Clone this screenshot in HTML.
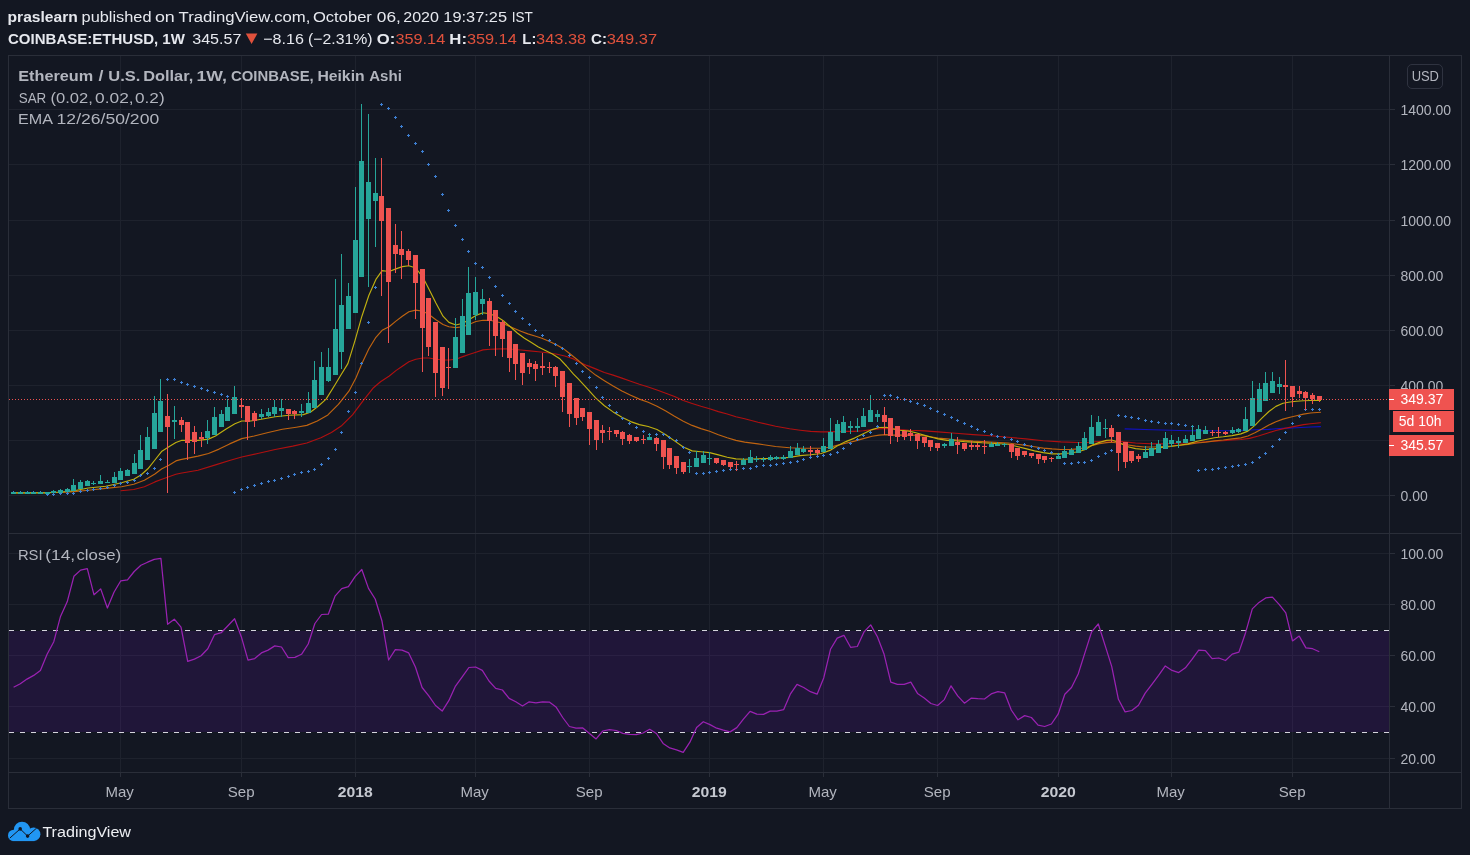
<!DOCTYPE html><html><head><meta charset="utf-8"><title>ETHUSD</title><style>
html,body{margin:0;padding:0;background:#131722;}
body{width:1470px;height:855px;overflow:hidden;position:relative;font-family:"Liberation Sans",sans-serif;}
svg{position:absolute;left:0;top:0;will-change:transform;}
text{font-family:"Liberation Sans",sans-serif;}
</style></head><body>
<svg width="1470" height="855" viewBox="0 0 1470 855">
<rect x="0" y="0" width="1470" height="855" fill="#131722"/>
<g stroke="#1e222d" stroke-width="1" shape-rendering="crispEdges">
<line x1="120.5" y1="56" x2="120.5" y2="772" />
<line x1="241.5" y1="56" x2="241.5" y2="772" />
<line x1="355.5" y1="56" x2="355.5" y2="772" />
<line x1="475.5" y1="56" x2="475.5" y2="772" />
<line x1="589.5" y1="56" x2="589.5" y2="772" />
<line x1="709.5" y1="56" x2="709.5" y2="772" />
<line x1="823.5" y1="56" x2="823.5" y2="772" />
<line x1="937.5" y1="56" x2="937.5" y2="772" />
<line x1="1058.5" y1="56" x2="1058.5" y2="772" />
<line x1="1171.5" y1="56" x2="1171.5" y2="772" />
<line x1="1292.5" y1="56" x2="1292.5" y2="772" />
<line x1="9" y1="109.5" x2="1389" y2="109.5" />
<line x1="9" y1="164.5" x2="1389" y2="164.5" />
<line x1="9" y1="220.5" x2="1389" y2="220.5" />
<line x1="9" y1="275.5" x2="1389" y2="275.5" />
<line x1="9" y1="330.5" x2="1389" y2="330.5" />
<line x1="9" y1="385.5" x2="1389" y2="385.5" />
<line x1="9" y1="440.5" x2="1389" y2="440.5" />
<line x1="9" y1="495.5" x2="1389" y2="495.5" />
<line x1="9" y1="553.5" x2="1389" y2="553.5" />
<line x1="9" y1="604.5" x2="1389" y2="604.5" />
<line x1="9" y1="655.5" x2="1389" y2="655.5" />
<line x1="9" y1="706.5" x2="1389" y2="706.5" />
<line x1="9" y1="758.5" x2="1389" y2="758.5" />
</g>
<rect x="9" y="631" width="1380" height="101" fill="rgba(153,21,255,0.105)"/>
<g stroke="#2a2e39" stroke-width="1" fill="none" shape-rendering="crispEdges">
<rect x="8.5" y="55.5" width="1453" height="753"/>
<line x1="1389.5" y1="56" x2="1389.5" y2="809"/>
<line x1="9" y1="533.5" x2="1461" y2="533.5"/>
<line x1="9" y1="772.5" x2="1461" y2="772.5"/>
<line x1="1389" y1="109.5" x2="1395" y2="109.5"/>
<line x1="1389" y1="164.5" x2="1395" y2="164.5"/>
<line x1="1389" y1="220.5" x2="1395" y2="220.5"/>
<line x1="1389" y1="275.5" x2="1395" y2="275.5"/>
<line x1="1389" y1="330.5" x2="1395" y2="330.5"/>
<line x1="1389" y1="385.5" x2="1395" y2="385.5"/>
<line x1="1389" y1="495.5" x2="1395" y2="495.5"/>
<line x1="1389" y1="553.5" x2="1395" y2="553.5"/>
<line x1="1389" y1="604.5" x2="1395" y2="604.5"/>
<line x1="1389" y1="655.5" x2="1395" y2="655.5"/>
<line x1="1389" y1="706.5" x2="1395" y2="706.5"/>
<line x1="1389" y1="758.5" x2="1395" y2="758.5"/>
<line x1="120.5" y1="772" x2="120.5" y2="777"/>
<line x1="241.5" y1="772" x2="241.5" y2="777"/>
<line x1="355.5" y1="772" x2="355.5" y2="777"/>
<line x1="475.5" y1="772" x2="475.5" y2="777"/>
<line x1="589.5" y1="772" x2="589.5" y2="777"/>
<line x1="709.5" y1="772" x2="709.5" y2="777"/>
<line x1="823.5" y1="772" x2="823.5" y2="777"/>
<line x1="937.5" y1="772" x2="937.5" y2="777"/>
<line x1="1058.5" y1="772" x2="1058.5" y2="777"/>
<line x1="1171.5" y1="772" x2="1171.5" y2="777"/>
<line x1="1292.5" y1="772" x2="1292.5" y2="777"/>
</g>
<line x1="9" y1="630.5" x2="1389" y2="630.5" stroke="#d4d4dc" stroke-width="1" stroke-dasharray="5,6" shape-rendering="crispEdges"/>
<line x1="9" y1="732.5" x2="1389" y2="732.5" stroke="#d4d4dc" stroke-width="1" stroke-dasharray="5,6" shape-rendering="crispEdges"/>
<path d="M1125.1,428.9 L1153.1,429.8 L1188.2,430.7 L1223.3,430.7 L1240.5,430.5 L1254.5,429.8 L1268.5,429.4 L1282.5,428.4 L1296.5,427.7 L1310.5,427.0 L1320.5,426.6" fill="none" stroke="#1010c0" stroke-width="1.15" stroke-linejoin="round" stroke-linecap="round"/>
<path d="M121.0,490.7 L133.8,489.5 L144.4,486.7 L154.9,481.9 L161.9,479.3 L168.9,476.7 L175.9,474.2 L180.5,473.3 L198.0,470.2 L215.5,464.9 L229.5,460.5 L241.7,457.0 L257.7,453.5 L275.2,449.5 L292.8,446.1 L306.8,443.0 L320.9,437.7 L331.4,432.5 L341.9,425.4 L352.5,414.9 L363.0,400.9 L373.5,387.7 L380.5,381.8 L389.3,376.0 L395.9,370.6 L402.3,366.2 L408.9,361.8 L415.8,359.2 L423.0,358.0 L428.9,358.0 L435.9,359.2 L443.0,360.0 L448.9,360.0 L455.9,359.2 L462.8,356.6 L468.9,354.5 L475.9,352.2 L483.0,349.9 L490.0,349.2 L494.5,349.1 L503.3,348.8 L512.1,349.3 L520.9,350.0 L529.6,350.9 L538.4,351.8 L547.2,352.8 L555.9,354.0 L564.7,356.0 L573.5,358.9 L578.0,361.4 L586.8,365.4 L595.6,368.9 L604.4,372.5 L613.1,375.1 L621.9,378.1 L630.7,381.2 L639.4,384.2 L648.2,387.0 L657.0,390.0 L665.8,393.2 L674.5,396.5 L683.3,400.5 L692.1,403.5 L700.9,406.3 L709.6,408.8 L718.4,411.6 L727.2,414.0 L735.9,416.7 L744.7,418.7 L758.0,422.3 L775.6,426.3 L789.6,428.8 L800.1,430.2 L810.7,431.4 L821.2,431.9 L830.0,431.9 L837.0,431.6 L845.8,431.4 L854.5,431.4 L863.3,430.7 L872.1,429.6 L879.1,428.9 L886.1,428.4 L893.1,428.9 L900.1,429.6 L908.9,430.2 L915.9,430.5 L924.7,430.9 L938.0,431.9 L955.6,433.3 L973.1,434.6 L990.7,435.8 L1008.2,437.2 L1025.8,438.9 L1043.3,440.7 L1060.9,441.9 L1078.4,442.5 L1087.2,442.5 L1095.9,441.8 L1104.7,441.0 L1111.7,440.8 L1118.0,441.2 L1126.8,442.1 L1135.6,443.0 L1144.4,443.5 L1153.1,443.9 L1161.9,443.9 L1170.7,443.5 L1179.4,443.3 L1188.2,443.0 L1197.0,442.5 L1205.8,441.8 L1214.5,441.2 L1223.3,440.7 L1232.1,440.0 L1240.9,439.5 L1249.6,438.4 L1258.4,436.0 L1267.2,433.2 L1275.9,430.5 L1284.7,428.4 L1293.5,426.6 L1303.5,424.6 L1310.5,423.8 L1320.5,422.8" fill="none" stroke="#b01010" stroke-width="1.15" stroke-linejoin="round" stroke-linecap="round"/>
<path d="M14.0,493.0 L61.0,492.5 L74.2,491.6 L88.2,490.2 L105.8,488.4 L121.5,486.7 L133.8,484.2 L144.4,480.2 L154.9,474.0 L161.9,468.8 L168.9,465.3 L175.9,460.9 L180.5,459.6 L198.0,456.1 L208.5,453.5 L219.1,449.1 L229.6,443.9 L241.7,438.6 L254.2,436.0 L268.2,432.5 L282.3,429.3 L296.3,427.2 L306.8,425.4 L317.3,421.0 L327.9,414.9 L338.4,404.4 L348.9,391.2 L355.9,378.0 L361.9,363.6 L368.9,348.7 L375.9,337.3 L382.1,330.3 L389.1,326.8 L395.9,321.1 L402.3,316.2 L408.9,311.8 L415.8,310.1 L423.0,311.3 L428.9,314.5 L435.9,319.7 L443.0,324.5 L448.9,326.8 L455.9,327.6 L462.8,326.8 L468.9,324.5 L475.9,321.5 L483.0,320.3 L490.0,320.3 L499.8,322.5 L506.8,325.1 L513.8,328.2 L520.9,331.2 L527.9,333.9 L534.9,336.0 L541.9,338.2 L548.9,341.2 L555.9,344.4 L563.0,348.4 L569.3,353.2 L578.0,360.2 L586.8,368.1 L595.6,375.1 L604.4,380.7 L613.1,386.0 L621.9,390.9 L630.7,395.3 L639.4,399.1 L648.2,402.3 L657.0,406.3 L665.8,411.1 L674.5,416.3 L683.3,421.2 L692.1,425.4 L700.9,428.6 L709.6,431.2 L718.4,434.7 L727.2,437.7 L735.9,440.4 L744.7,442.1 L758.0,443.9 L775.6,446.5 L789.6,447.7 L800.1,448.2 L810.7,448.2 L821.2,448.2 L830.0,447.2 L837.0,445.4 L845.8,443.3 L854.5,441.1 L863.3,438.6 L872.1,436.3 L879.1,435.1 L886.1,434.6 L893.1,435.1 L900.1,435.1 L908.9,435.1 L915.9,435.2 L924.7,435.9 L933.5,437.2 L938.0,438.1 L946.8,438.9 L955.6,439.8 L964.4,440.4 L973.1,441.1 L981.9,441.6 L990.7,442.1 L999.4,442.5 L1008.2,443.0 L1017.0,444.2 L1025.8,445.4 L1034.5,446.8 L1043.3,448.1 L1052.1,448.9 L1060.9,449.5 L1069.6,449.5 L1078.4,448.9 L1085.4,447.7 L1092.4,445.4 L1099.4,443.6 L1106.5,442.6 L1111.7,442.2 L1118.0,443.0 L1126.8,444.7 L1135.6,446.1 L1144.4,447.0 L1153.1,447.0 L1161.9,446.5 L1170.7,446.0 L1179.4,445.3 L1188.2,444.4 L1197.0,443.0 L1205.8,442.1 L1214.5,440.9 L1223.3,440.0 L1232.1,438.9 L1240.9,437.9 L1247.9,436.0 L1254.9,432.7 L1261.9,429.0 L1268.9,425.0 L1275.9,421.8 L1283.0,419.1 L1290.0,417.3 L1296.5,415.8 L1303.5,414.1 L1310.5,413.0 L1320.5,412.3" fill="none" stroke="#c06410" stroke-width="1.15" stroke-linejoin="round" stroke-linecap="round"/>
<path d="M14.0,492.8 L47.9,492.8 L61.0,492.0 L74.2,490.7 L88.2,488.0 L105.8,486.3 L121.5,482.8 L133.8,479.3 L140.9,475.0 L147.9,468.8 L154.9,460.0 L161.9,451.2 L168.9,446.8 L175.9,442.5 L181.9,440.2 L188.0,440.4 L198.0,440.4 L208.5,439.1 L215.5,436.0 L226.1,429.0 L234.9,423.7 L241.7,421.0 L250.7,421.0 L261.2,419.3 L275.2,416.7 L289.3,415.3 L303.3,414.6 L310.3,412.3 L317.3,407.0 L326.1,399.1 L334.9,385.0 L340.9,375.0 L347.9,363.6 L354.9,340.8 L361.9,316.2 L368.9,295.2 L375.9,279.4 L382.1,270.6 L389.1,271.5 L395.9,268.9 L402.3,266.6 L408.9,265.7 L415.8,268.0 L423.0,277.6 L428.9,289.0 L435.9,303.0 L443.0,316.2 L448.9,322.4 L455.9,325.0 L462.8,323.2 L468.9,319.7 L475.9,315.4 L483.0,312.7 L489.3,313.7 L496.3,316.3 L503.3,320.7 L510.3,326.8 L517.3,333.0 L524.4,338.2 L531.4,342.6 L538.4,347.0 L545.4,350.5 L552.4,354.0 L559.4,358.4 L566.5,366.0 L573.5,374.2 L578.0,378.6 L586.8,388.2 L595.6,397.9 L604.4,405.8 L613.1,411.9 L621.9,417.2 L630.7,421.6 L639.4,424.6 L648.2,426.5 L657.0,429.5 L665.8,434.7 L674.5,440.9 L683.3,447.0 L692.1,450.9 L700.9,451.8 L709.6,452.6 L718.4,454.9 L727.2,457.2 L735.9,458.9 L744.7,459.3 L758.0,458.8 L775.6,458.2 L789.6,457.4 L800.1,455.6 L810.7,454.7 L821.2,453.5 L830.0,450.4 L837.0,446.0 L845.8,441.6 L854.5,438.1 L863.3,433.7 L872.1,429.6 L879.1,427.5 L886.1,427.2 L893.1,428.9 L900.1,430.2 L908.9,431.1 L915.9,432.8 L924.7,435.4 L933.5,437.8 L938.0,438.9 L946.8,440.4 L955.6,440.7 L964.4,441.6 L973.1,442.1 L981.9,442.8 L990.7,443.3 L999.4,443.7 L1008.2,444.2 L1017.0,446.5 L1025.8,448.6 L1034.5,450.9 L1043.3,452.6 L1052.1,453.9 L1060.9,453.9 L1069.6,453.0 L1078.4,451.8 L1085.4,449.5 L1092.4,445.1 L1099.4,442.4 L1106.5,440.4 L1111.7,440.0 L1118.0,442.1 L1126.8,446.5 L1135.6,448.6 L1144.4,449.5 L1153.1,449.1 L1161.9,447.4 L1170.7,446.5 L1179.4,445.3 L1188.2,443.9 L1197.0,441.2 L1205.8,439.5 L1214.5,437.7 L1223.3,436.8 L1232.1,435.6 L1240.9,433.9 L1247.9,431.1 L1254.9,425.4 L1261.9,418.2 L1268.9,411.5 L1275.9,406.4 L1283.0,403.3 L1290.0,402.0 L1296.5,401.3 L1303.5,400.8 L1310.5,400.5 L1320.5,400.4" fill="none" stroke="#c0b010" stroke-width="1.15" stroke-linejoin="round" stroke-linecap="round"/>
<g fill="#3d7fd3" shape-rendering="crispEdges">
<rect x="12" y="492" width="3" height="1"/><rect x="13" y="491" width="1" height="3"/>
<rect x="19" y="492" width="3" height="1"/><rect x="20" y="491" width="1" height="3"/>
<rect x="26" y="492" width="3" height="1"/><rect x="27" y="491" width="1" height="3"/>
<rect x="32" y="492" width="3" height="1"/><rect x="33" y="491" width="1" height="3"/>
<rect x="39" y="492" width="3" height="1"/><rect x="40" y="491" width="1" height="3"/>
<rect x="46" y="494" width="3" height="1"/><rect x="47" y="493" width="1" height="3"/>
<rect x="52" y="494" width="3" height="1"/><rect x="53" y="493" width="1" height="3"/>
<rect x="59" y="493" width="3" height="1"/><rect x="60" y="492" width="1" height="3"/>
<rect x="66" y="493" width="3" height="1"/><rect x="67" y="492" width="1" height="3"/>
<rect x="72" y="493" width="3" height="1"/><rect x="73" y="492" width="1" height="3"/>
<rect x="79" y="491" width="3" height="1"/><rect x="80" y="490" width="1" height="3"/>
<rect x="86" y="490" width="3" height="1"/><rect x="87" y="489" width="1" height="3"/>
<rect x="92" y="489" width="3" height="1"/><rect x="93" y="488" width="1" height="3"/>
<rect x="99" y="488" width="3" height="1"/><rect x="100" y="487" width="1" height="3"/>
<rect x="106" y="487" width="3" height="1"/><rect x="107" y="486" width="1" height="3"/>
<rect x="113" y="485" width="3" height="1"/><rect x="114" y="484" width="1" height="3"/>
<rect x="119" y="483" width="3" height="1"/><rect x="120" y="482" width="1" height="3"/>
<rect x="126" y="482" width="3" height="1"/><rect x="127" y="481" width="1" height="3"/>
<rect x="133" y="480" width="3" height="1"/><rect x="134" y="479" width="1" height="3"/>
<rect x="139" y="475" width="3" height="1"/><rect x="140" y="474" width="1" height="3"/>
<rect x="146" y="473" width="3" height="1"/><rect x="147" y="472" width="1" height="3"/>
<rect x="153" y="468" width="3" height="1"/><rect x="154" y="467" width="1" height="3"/>
<rect x="159" y="459" width="3" height="1"/><rect x="160" y="458" width="1" height="3"/>
<rect x="166" y="379" width="3" height="1"/><rect x="167" y="378" width="1" height="3"/>
<rect x="173" y="379" width="3" height="1"/><rect x="174" y="378" width="1" height="3"/>
<rect x="180" y="382" width="3" height="1"/><rect x="181" y="381" width="1" height="3"/>
<rect x="186" y="384" width="3" height="1"/><rect x="187" y="383" width="1" height="3"/>
<rect x="193" y="386" width="3" height="1"/><rect x="194" y="385" width="1" height="3"/>
<rect x="200" y="388" width="3" height="1"/><rect x="201" y="387" width="1" height="3"/>
<rect x="206" y="390" width="3" height="1"/><rect x="207" y="389" width="1" height="3"/>
<rect x="213" y="392" width="3" height="1"/><rect x="214" y="391" width="1" height="3"/>
<rect x="220" y="394" width="3" height="1"/><rect x="221" y="393" width="1" height="3"/>
<rect x="226" y="396" width="3" height="1"/><rect x="227" y="395" width="1" height="3"/>
<rect x="233" y="492" width="3" height="1"/><rect x="234" y="491" width="1" height="3"/>
<rect x="240" y="489" width="3" height="1"/><rect x="241" y="488" width="1" height="3"/>
<rect x="246" y="487" width="3" height="1"/><rect x="247" y="486" width="1" height="3"/>
<rect x="253" y="485" width="3" height="1"/><rect x="254" y="484" width="1" height="3"/>
<rect x="260" y="483" width="3" height="1"/><rect x="261" y="482" width="1" height="3"/>
<rect x="267" y="481" width="3" height="1"/><rect x="268" y="480" width="1" height="3"/>
<rect x="273" y="480" width="3" height="1"/><rect x="274" y="479" width="1" height="3"/>
<rect x="280" y="478" width="3" height="1"/><rect x="281" y="477" width="1" height="3"/>
<rect x="287" y="476" width="3" height="1"/><rect x="288" y="475" width="1" height="3"/>
<rect x="293" y="474" width="3" height="1"/><rect x="294" y="473" width="1" height="3"/>
<rect x="300" y="472" width="3" height="1"/><rect x="301" y="471" width="1" height="3"/>
<rect x="307" y="471" width="3" height="1"/><rect x="308" y="470" width="1" height="3"/>
<rect x="313" y="469" width="3" height="1"/><rect x="314" y="468" width="1" height="3"/>
<rect x="320" y="464" width="3" height="1"/><rect x="321" y="463" width="1" height="3"/>
<rect x="327" y="458" width="3" height="1"/><rect x="328" y="457" width="1" height="3"/>
<rect x="334" y="449" width="3" height="1"/><rect x="335" y="448" width="1" height="3"/>
<rect x="340" y="432" width="3" height="1"/><rect x="341" y="431" width="1" height="3"/>
<rect x="347" y="411" width="3" height="1"/><rect x="348" y="410" width="1" height="3"/>
<rect x="354" y="392" width="3" height="1"/><rect x="355" y="391" width="1" height="3"/>
<rect x="360" y="363" width="3" height="1"/><rect x="361" y="362" width="1" height="3"/>
<rect x="367" y="322" width="3" height="1"/><rect x="368" y="321" width="1" height="3"/>
<rect x="374" y="287" width="3" height="1"/><rect x="375" y="286" width="1" height="3"/>
<rect x="380" y="104" width="3" height="1"/><rect x="381" y="103" width="1" height="3"/>
<rect x="387" y="108" width="3" height="1"/><rect x="388" y="107" width="1" height="3"/>
<rect x="394" y="117" width="3" height="1"/><rect x="395" y="116" width="1" height="3"/>
<rect x="400" y="126" width="3" height="1"/><rect x="401" y="125" width="1" height="3"/>
<rect x="407" y="135" width="3" height="1"/><rect x="408" y="134" width="1" height="3"/>
<rect x="414" y="143" width="3" height="1"/><rect x="415" y="142" width="1" height="3"/>
<rect x="421" y="151" width="3" height="1"/><rect x="422" y="150" width="1" height="3"/>
<rect x="427" y="164" width="3" height="1"/><rect x="428" y="163" width="1" height="3"/>
<rect x="434" y="176" width="3" height="1"/><rect x="435" y="175" width="1" height="3"/>
<rect x="441" y="194" width="3" height="1"/><rect x="442" y="193" width="1" height="3"/>
<rect x="447" y="210" width="3" height="1"/><rect x="448" y="209" width="1" height="3"/>
<rect x="454" y="225" width="3" height="1"/><rect x="455" y="224" width="1" height="3"/>
<rect x="461" y="239" width="3" height="1"/><rect x="462" y="238" width="1" height="3"/>
<rect x="467" y="251" width="3" height="1"/><rect x="468" y="250" width="1" height="3"/>
<rect x="474" y="263" width="3" height="1"/><rect x="475" y="262" width="1" height="3"/>
<rect x="481" y="267" width="3" height="1"/><rect x="482" y="266" width="1" height="3"/>
<rect x="488" y="277" width="3" height="1"/><rect x="489" y="276" width="1" height="3"/>
<rect x="494" y="286" width="3" height="1"/><rect x="495" y="285" width="1" height="3"/>
<rect x="501" y="295" width="3" height="1"/><rect x="502" y="294" width="1" height="3"/>
<rect x="508" y="303" width="3" height="1"/><rect x="509" y="302" width="1" height="3"/>
<rect x="514" y="311" width="3" height="1"/><rect x="515" y="310" width="1" height="3"/>
<rect x="521" y="318" width="3" height="1"/><rect x="522" y="317" width="1" height="3"/>
<rect x="528" y="324" width="3" height="1"/><rect x="529" y="323" width="1" height="3"/>
<rect x="534" y="330" width="3" height="1"/><rect x="535" y="329" width="1" height="3"/>
<rect x="541" y="335" width="3" height="1"/><rect x="542" y="334" width="1" height="3"/>
<rect x="548" y="340" width="3" height="1"/><rect x="549" y="339" width="1" height="3"/>
<rect x="554" y="344" width="3" height="1"/><rect x="555" y="343" width="1" height="3"/>
<rect x="561" y="348" width="3" height="1"/><rect x="562" y="347" width="1" height="3"/>
<rect x="568" y="355" width="3" height="1"/><rect x="569" y="354" width="1" height="3"/>
<rect x="575" y="363" width="3" height="1"/><rect x="576" y="362" width="1" height="3"/>
<rect x="581" y="371" width="3" height="1"/><rect x="582" y="370" width="1" height="3"/>
<rect x="588" y="377" width="3" height="1"/><rect x="589" y="376" width="1" height="3"/>
<rect x="595" y="387" width="3" height="1"/><rect x="596" y="386" width="1" height="3"/>
<rect x="601" y="397" width="3" height="1"/><rect x="602" y="396" width="1" height="3"/>
<rect x="608" y="405" width="3" height="1"/><rect x="609" y="404" width="1" height="3"/>
<rect x="615" y="412" width="3" height="1"/><rect x="616" y="411" width="1" height="3"/>
<rect x="621" y="418" width="3" height="1"/><rect x="622" y="417" width="1" height="3"/>
<rect x="628" y="423" width="3" height="1"/><rect x="629" y="422" width="1" height="3"/>
<rect x="635" y="427" width="3" height="1"/><rect x="636" y="426" width="1" height="3"/>
<rect x="642" y="431" width="3" height="1"/><rect x="643" y="430" width="1" height="3"/>
<rect x="648" y="434" width="3" height="1"/><rect x="649" y="433" width="1" height="3"/>
<rect x="655" y="434" width="3" height="1"/><rect x="656" y="433" width="1" height="3"/>
<rect x="662" y="434" width="3" height="1"/><rect x="663" y="433" width="1" height="3"/>
<rect x="668" y="437" width="3" height="1"/><rect x="669" y="436" width="1" height="3"/>
<rect x="675" y="440" width="3" height="1"/><rect x="676" y="439" width="1" height="3"/>
<rect x="682" y="447" width="3" height="1"/><rect x="683" y="446" width="1" height="3"/>
<rect x="688" y="452" width="3" height="1"/><rect x="689" y="451" width="1" height="3"/>
<rect x="695" y="473" width="3" height="1"/><rect x="696" y="472" width="1" height="3"/>
<rect x="702" y="473" width="3" height="1"/><rect x="703" y="472" width="1" height="3"/>
<rect x="708" y="472" width="3" height="1"/><rect x="709" y="471" width="1" height="3"/>
<rect x="715" y="471" width="3" height="1"/><rect x="716" y="470" width="1" height="3"/>
<rect x="722" y="470" width="3" height="1"/><rect x="723" y="469" width="1" height="3"/>
<rect x="729" y="469" width="3" height="1"/><rect x="730" y="468" width="1" height="3"/>
<rect x="735" y="469" width="3" height="1"/><rect x="736" y="468" width="1" height="3"/>
<rect x="742" y="468" width="3" height="1"/><rect x="743" y="467" width="1" height="3"/>
<rect x="749" y="468" width="3" height="1"/><rect x="750" y="467" width="1" height="3"/>
<rect x="755" y="466" width="3" height="1"/><rect x="756" y="465" width="1" height="3"/>
<rect x="762" y="465" width="3" height="1"/><rect x="763" y="464" width="1" height="3"/>
<rect x="769" y="465" width="3" height="1"/><rect x="770" y="464" width="1" height="3"/>
<rect x="775" y="464" width="3" height="1"/><rect x="776" y="463" width="1" height="3"/>
<rect x="782" y="463" width="3" height="1"/><rect x="783" y="462" width="1" height="3"/>
<rect x="789" y="462" width="3" height="1"/><rect x="790" y="461" width="1" height="3"/>
<rect x="796" y="461" width="3" height="1"/><rect x="797" y="460" width="1" height="3"/>
<rect x="802" y="459" width="3" height="1"/><rect x="803" y="458" width="1" height="3"/>
<rect x="809" y="457" width="3" height="1"/><rect x="810" y="456" width="1" height="3"/>
<rect x="816" y="456" width="3" height="1"/><rect x="817" y="455" width="1" height="3"/>
<rect x="822" y="455" width="3" height="1"/><rect x="823" y="454" width="1" height="3"/>
<rect x="829" y="454" width="3" height="1"/><rect x="830" y="453" width="1" height="3"/>
<rect x="836" y="452" width="3" height="1"/><rect x="837" y="451" width="1" height="3"/>
<rect x="842" y="448" width="3" height="1"/><rect x="843" y="447" width="1" height="3"/>
<rect x="849" y="443" width="3" height="1"/><rect x="850" y="442" width="1" height="3"/>
<rect x="856" y="439" width="3" height="1"/><rect x="857" y="438" width="1" height="3"/>
<rect x="862" y="435" width="3" height="1"/><rect x="863" y="434" width="1" height="3"/>
<rect x="869" y="432" width="3" height="1"/><rect x="870" y="431" width="1" height="3"/>
<rect x="876" y="426" width="3" height="1"/><rect x="877" y="425" width="1" height="3"/>
<rect x="883" y="395" width="3" height="1"/><rect x="884" y="394" width="1" height="3"/>
<rect x="889" y="395" width="3" height="1"/><rect x="890" y="394" width="1" height="3"/>
<rect x="896" y="397" width="3" height="1"/><rect x="897" y="396" width="1" height="3"/>
<rect x="903" y="399" width="3" height="1"/><rect x="904" y="398" width="1" height="3"/>
<rect x="909" y="401" width="3" height="1"/><rect x="910" y="400" width="1" height="3"/>
<rect x="916" y="403" width="3" height="1"/><rect x="917" y="402" width="1" height="3"/>
<rect x="923" y="405" width="3" height="1"/><rect x="924" y="404" width="1" height="3"/>
<rect x="929" y="408" width="3" height="1"/><rect x="930" y="407" width="1" height="3"/>
<rect x="936" y="411" width="3" height="1"/><rect x="937" y="410" width="1" height="3"/>
<rect x="943" y="414" width="3" height="1"/><rect x="944" y="413" width="1" height="3"/>
<rect x="950" y="417" width="3" height="1"/><rect x="951" y="416" width="1" height="3"/>
<rect x="956" y="420" width="3" height="1"/><rect x="957" y="419" width="1" height="3"/>
<rect x="963" y="423" width="3" height="1"/><rect x="964" y="422" width="1" height="3"/>
<rect x="970" y="426" width="3" height="1"/><rect x="971" y="425" width="1" height="3"/>
<rect x="976" y="429" width="3" height="1"/><rect x="977" y="428" width="1" height="3"/>
<rect x="983" y="431" width="3" height="1"/><rect x="984" y="430" width="1" height="3"/>
<rect x="990" y="434" width="3" height="1"/><rect x="991" y="433" width="1" height="3"/>
<rect x="996" y="436" width="3" height="1"/><rect x="997" y="435" width="1" height="3"/>
<rect x="1003" y="437" width="3" height="1"/><rect x="1004" y="436" width="1" height="3"/>
<rect x="1010" y="439" width="3" height="1"/><rect x="1011" y="438" width="1" height="3"/>
<rect x="1016" y="441" width="3" height="1"/><rect x="1017" y="440" width="1" height="3"/>
<rect x="1023" y="444" width="3" height="1"/><rect x="1024" y="443" width="1" height="3"/>
<rect x="1030" y="446" width="3" height="1"/><rect x="1031" y="445" width="1" height="3"/>
<rect x="1037" y="448" width="3" height="1"/><rect x="1038" y="447" width="1" height="3"/>
<rect x="1043" y="450" width="3" height="1"/><rect x="1044" y="449" width="1" height="3"/>
<rect x="1050" y="452" width="3" height="1"/><rect x="1051" y="451" width="1" height="3"/>
<rect x="1057" y="454" width="3" height="1"/><rect x="1058" y="453" width="1" height="3"/>
<rect x="1063" y="463" width="3" height="1"/><rect x="1064" y="462" width="1" height="3"/>
<rect x="1070" y="463" width="3" height="1"/><rect x="1071" y="462" width="1" height="3"/>
<rect x="1077" y="462" width="3" height="1"/><rect x="1078" y="461" width="1" height="3"/>
<rect x="1083" y="462" width="3" height="1"/><rect x="1084" y="461" width="1" height="3"/>
<rect x="1090" y="460" width="3" height="1"/><rect x="1091" y="459" width="1" height="3"/>
<rect x="1097" y="456" width="3" height="1"/><rect x="1098" y="455" width="1" height="3"/>
<rect x="1104" y="453" width="3" height="1"/><rect x="1105" y="452" width="1" height="3"/>
<rect x="1110" y="450" width="3" height="1"/><rect x="1111" y="449" width="1" height="3"/>
<rect x="1117" y="415" width="3" height="1"/><rect x="1118" y="414" width="1" height="3"/>
<rect x="1124" y="416" width="3" height="1"/><rect x="1125" y="415" width="1" height="3"/>
<rect x="1130" y="417" width="3" height="1"/><rect x="1131" y="416" width="1" height="3"/>
<rect x="1137" y="418" width="3" height="1"/><rect x="1138" y="417" width="1" height="3"/>
<rect x="1144" y="420" width="3" height="1"/><rect x="1145" y="419" width="1" height="3"/>
<rect x="1150" y="421" width="3" height="1"/><rect x="1151" y="420" width="1" height="3"/>
<rect x="1157" y="422" width="3" height="1"/><rect x="1158" y="421" width="1" height="3"/>
<rect x="1164" y="423" width="3" height="1"/><rect x="1165" y="422" width="1" height="3"/>
<rect x="1170" y="423" width="3" height="1"/><rect x="1171" y="422" width="1" height="3"/>
<rect x="1177" y="424" width="3" height="1"/><rect x="1178" y="423" width="1" height="3"/>
<rect x="1184" y="425" width="3" height="1"/><rect x="1185" y="424" width="1" height="3"/>
<rect x="1191" y="426" width="3" height="1"/><rect x="1192" y="425" width="1" height="3"/>
<rect x="1197" y="470" width="3" height="1"/><rect x="1198" y="469" width="1" height="3"/>
<rect x="1204" y="469" width="3" height="1"/><rect x="1205" y="468" width="1" height="3"/>
<rect x="1211" y="469" width="3" height="1"/><rect x="1212" y="468" width="1" height="3"/>
<rect x="1217" y="468" width="3" height="1"/><rect x="1218" y="467" width="1" height="3"/>
<rect x="1224" y="467" width="3" height="1"/><rect x="1225" y="466" width="1" height="3"/>
<rect x="1231" y="466" width="3" height="1"/><rect x="1232" y="465" width="1" height="3"/>
<rect x="1237" y="465" width="3" height="1"/><rect x="1238" y="464" width="1" height="3"/>
<rect x="1244" y="464" width="3" height="1"/><rect x="1245" y="463" width="1" height="3"/>
<rect x="1251" y="462" width="3" height="1"/><rect x="1252" y="461" width="1" height="3"/>
<rect x="1258" y="457" width="3" height="1"/><rect x="1259" y="456" width="1" height="3"/>
<rect x="1264" y="453" width="3" height="1"/><rect x="1265" y="452" width="1" height="3"/>
<rect x="1271" y="446" width="3" height="1"/><rect x="1272" y="445" width="1" height="3"/>
<rect x="1278" y="439" width="3" height="1"/><rect x="1279" y="438" width="1" height="3"/>
<rect x="1284" y="432" width="3" height="1"/><rect x="1285" y="431" width="1" height="3"/>
<rect x="1291" y="423" width="3" height="1"/><rect x="1292" y="422" width="1" height="3"/>
<rect x="1298" y="416" width="3" height="1"/><rect x="1299" y="415" width="1" height="3"/>
<rect x="1304" y="409" width="3" height="1"/><rect x="1305" y="408" width="1" height="3"/>
<rect x="1311" y="409" width="3" height="1"/><rect x="1312" y="408" width="1" height="3"/>
<rect x="1318" y="409" width="3" height="1"/><rect x="1319" y="408" width="1" height="3"/>
</g>
<g shape-rendering="crispEdges">
<rect x="13" y="492" width="1" height="2" fill="#26a69a"/>
<rect x="11" y="492" width="5" height="2" fill="#26a69a"/>
<rect x="20" y="492" width="1" height="2" fill="#26a69a"/>
<rect x="18" y="492" width="5" height="2" fill="#26a69a"/>
<rect x="27" y="492" width="1" height="2" fill="#26a69a"/>
<rect x="25" y="492" width="5" height="2" fill="#26a69a"/>
<rect x="33" y="492" width="1" height="2" fill="#26a69a"/>
<rect x="31" y="492" width="5" height="2" fill="#26a69a"/>
<rect x="40" y="492" width="1" height="2" fill="#26a69a"/>
<rect x="38" y="492" width="5" height="2" fill="#26a69a"/>
<rect x="47" y="492" width="1" height="2" fill="#26a69a"/>
<rect x="45" y="492" width="5" height="2" fill="#26a69a"/>
<rect x="53" y="490" width="1" height="3" fill="#26a69a"/>
<rect x="51" y="491" width="5" height="2" fill="#26a69a"/>
<rect x="60" y="489" width="1" height="4" fill="#26a69a"/>
<rect x="58" y="490" width="5" height="3" fill="#26a69a"/>
<rect x="67" y="488" width="1" height="4" fill="#26a69a"/>
<rect x="65" y="489" width="5" height="3" fill="#26a69a"/>
<rect x="73" y="479" width="1" height="12" fill="#26a69a"/>
<rect x="71" y="485" width="5" height="6" fill="#26a69a"/>
<rect x="80" y="480" width="1" height="9" fill="#26a69a"/>
<rect x="78" y="482" width="5" height="7" fill="#26a69a"/>
<rect x="87" y="480" width="1" height="6" fill="#26a69a"/>
<rect x="85" y="481" width="5" height="5" fill="#26a69a"/>
<rect x="93" y="481" width="1" height="4" fill="#26a69a"/>
<rect x="91" y="483" width="5" height="1" fill="#26a69a"/>
<rect x="100" y="475" width="1" height="9" fill="#26a69a"/>
<rect x="98" y="481" width="5" height="3" fill="#26a69a"/>
<rect x="107" y="480" width="1" height="3" fill="#26a69a"/>
<rect x="105" y="482" width="5" height="1" fill="#26a69a"/>
<rect x="114" y="472" width="1" height="11" fill="#26a69a"/>
<rect x="112" y="477" width="5" height="6" fill="#26a69a"/>
<rect x="120" y="468" width="1" height="12" fill="#26a69a"/>
<rect x="118" y="471" width="5" height="9" fill="#26a69a"/>
<rect x="127" y="469" width="1" height="7" fill="#26a69a"/>
<rect x="125" y="470" width="5" height="6" fill="#26a69a"/>
<rect x="134" y="454" width="1" height="20" fill="#26a69a"/>
<rect x="132" y="463" width="5" height="11" fill="#26a69a"/>
<rect x="140" y="435" width="1" height="34" fill="#26a69a"/>
<rect x="138" y="450" width="5" height="19" fill="#26a69a"/>
<rect x="147" y="427" width="1" height="33" fill="#26a69a"/>
<rect x="145" y="437" width="5" height="23" fill="#26a69a"/>
<rect x="154" y="396" width="1" height="53" fill="#26a69a"/>
<rect x="152" y="413" width="5" height="36" fill="#26a69a"/>
<rect x="160" y="379" width="1" height="53" fill="#26a69a"/>
<rect x="158" y="401" width="5" height="31" fill="#26a69a"/>
<rect x="167" y="394" width="1" height="99" fill="#ef5350"/>
<rect x="165" y="416" width="5" height="11" fill="#ef5350"/>
<rect x="174" y="406" width="1" height="33" fill="#26a69a"/>
<rect x="172" y="420" width="5" height="2" fill="#26a69a"/>
<rect x="181" y="417" width="1" height="15" fill="#ef5350"/>
<rect x="179" y="420" width="5" height="5" fill="#ef5350"/>
<rect x="187" y="422" width="1" height="38" fill="#ef5350"/>
<rect x="185" y="422" width="5" height="21" fill="#ef5350"/>
<rect x="194" y="426" width="1" height="28" fill="#ef5350"/>
<rect x="192" y="432" width="5" height="10" fill="#ef5350"/>
<rect x="201" y="432" width="1" height="15" fill="#ef5350"/>
<rect x="199" y="437" width="5" height="2" fill="#ef5350"/>
<rect x="207" y="420" width="1" height="24" fill="#26a69a"/>
<rect x="205" y="431" width="5" height="7" fill="#26a69a"/>
<rect x="214" y="407" width="1" height="28" fill="#26a69a"/>
<rect x="212" y="417" width="5" height="18" fill="#26a69a"/>
<rect x="221" y="410" width="1" height="17" fill="#26a69a"/>
<rect x="219" y="414" width="5" height="13" fill="#26a69a"/>
<rect x="227" y="399" width="1" height="22" fill="#26a69a"/>
<rect x="225" y="407" width="5" height="14" fill="#26a69a"/>
<rect x="234" y="386" width="1" height="28" fill="#26a69a"/>
<rect x="232" y="397" width="5" height="17" fill="#26a69a"/>
<rect x="241" y="398" width="1" height="20" fill="#ef5350"/>
<rect x="239" y="405" width="5" height="2" fill="#ef5350"/>
<rect x="247" y="406" width="1" height="34" fill="#ef5350"/>
<rect x="245" y="406" width="5" height="16" fill="#ef5350"/>
<rect x="254" y="411" width="1" height="16" fill="#ef5350"/>
<rect x="252" y="413" width="5" height="8" fill="#ef5350"/>
<rect x="261" y="409" width="1" height="10" fill="#26a69a"/>
<rect x="259" y="414" width="5" height="3" fill="#26a69a"/>
<rect x="268" y="408" width="1" height="9" fill="#26a69a"/>
<rect x="266" y="412" width="5" height="4" fill="#26a69a"/>
<rect x="274" y="400" width="1" height="17" fill="#26a69a"/>
<rect x="272" y="407" width="5" height="7" fill="#26a69a"/>
<rect x="281" y="399" width="1" height="18" fill="#26a69a"/>
<rect x="279" y="408" width="5" height="3" fill="#26a69a"/>
<rect x="288" y="409" width="1" height="11" fill="#ef5350"/>
<rect x="286" y="409" width="5" height="5" fill="#ef5350"/>
<rect x="294" y="410" width="1" height="9" fill="#ef5350"/>
<rect x="292" y="411" width="5" height="3" fill="#ef5350"/>
<rect x="301" y="404" width="1" height="13" fill="#26a69a"/>
<rect x="299" y="411" width="5" height="2" fill="#26a69a"/>
<rect x="308" y="392" width="1" height="21" fill="#26a69a"/>
<rect x="306" y="403" width="5" height="10" fill="#26a69a"/>
<rect x="314" y="361" width="1" height="47" fill="#26a69a"/>
<rect x="312" y="380" width="5" height="28" fill="#26a69a"/>
<rect x="321" y="352" width="1" height="43" fill="#26a69a"/>
<rect x="319" y="367" width="5" height="28" fill="#26a69a"/>
<rect x="328" y="348" width="1" height="34" fill="#26a69a"/>
<rect x="326" y="367" width="5" height="14" fill="#26a69a"/>
<rect x="335" y="279" width="1" height="96" fill="#26a69a"/>
<rect x="333" y="329" width="5" height="46" fill="#26a69a"/>
<rect x="341" y="254" width="1" height="115" fill="#26a69a"/>
<rect x="339" y="305" width="5" height="47" fill="#26a69a"/>
<rect x="348" y="283" width="1" height="46" fill="#26a69a"/>
<rect x="346" y="296" width="5" height="33" fill="#26a69a"/>
<rect x="355" y="187" width="1" height="126" fill="#26a69a"/>
<rect x="353" y="240" width="5" height="73" fill="#26a69a"/>
<rect x="361" y="104" width="1" height="173" fill="#26a69a"/>
<rect x="359" y="161" width="5" height="116" fill="#26a69a"/>
<rect x="368" y="114" width="1" height="173" fill="#26a69a"/>
<rect x="366" y="182" width="5" height="37" fill="#26a69a"/>
<rect x="375" y="158" width="1" height="89" fill="#26a69a"/>
<rect x="373" y="193" width="5" height="8" fill="#26a69a"/>
<rect x="381" y="158" width="1" height="138" fill="#ef5350"/>
<rect x="379" y="196" width="5" height="25" fill="#ef5350"/>
<rect x="388" y="208" width="1" height="135" fill="#ef5350"/>
<rect x="386" y="208" width="5" height="74" fill="#ef5350"/>
<rect x="395" y="224" width="1" height="49" fill="#ef5350"/>
<rect x="393" y="245" width="5" height="9" fill="#ef5350"/>
<rect x="401" y="231" width="1" height="48" fill="#ef5350"/>
<rect x="399" y="249" width="5" height="6" fill="#ef5350"/>
<rect x="408" y="249" width="1" height="17" fill="#ef5350"/>
<rect x="406" y="251" width="5" height="9" fill="#ef5350"/>
<rect x="415" y="255" width="1" height="64" fill="#ef5350"/>
<rect x="413" y="255" width="5" height="28" fill="#ef5350"/>
<rect x="422" y="269" width="1" height="103" fill="#ef5350"/>
<rect x="420" y="269" width="5" height="59" fill="#ef5350"/>
<rect x="428" y="298" width="1" height="58" fill="#ef5350"/>
<rect x="426" y="298" width="5" height="49" fill="#ef5350"/>
<rect x="435" y="322" width="1" height="75" fill="#ef5350"/>
<rect x="433" y="322" width="5" height="51" fill="#ef5350"/>
<rect x="442" y="347" width="1" height="49" fill="#ef5350"/>
<rect x="440" y="347" width="5" height="41" fill="#ef5350"/>
<rect x="448" y="348" width="1" height="41" fill="#ef5350"/>
<rect x="446" y="367" width="5" height="1" fill="#ef5350"/>
<rect x="455" y="318" width="1" height="50" fill="#26a69a"/>
<rect x="453" y="337" width="5" height="31" fill="#26a69a"/>
<rect x="462" y="299" width="1" height="54" fill="#26a69a"/>
<rect x="460" y="316" width="5" height="37" fill="#26a69a"/>
<rect x="468" y="267" width="1" height="68" fill="#26a69a"/>
<rect x="466" y="293" width="5" height="42" fill="#26a69a"/>
<rect x="475" y="277" width="1" height="43" fill="#26a69a"/>
<rect x="473" y="292" width="5" height="23" fill="#26a69a"/>
<rect x="482" y="289" width="1" height="26" fill="#26a69a"/>
<rect x="480" y="299" width="5" height="5" fill="#26a69a"/>
<rect x="489" y="298" width="1" height="48" fill="#ef5350"/>
<rect x="487" y="301" width="5" height="20" fill="#ef5350"/>
<rect x="495" y="310" width="1" height="46" fill="#ef5350"/>
<rect x="493" y="310" width="5" height="26" fill="#ef5350"/>
<rect x="502" y="320" width="1" height="37" fill="#ef5350"/>
<rect x="500" y="322" width="5" height="17" fill="#ef5350"/>
<rect x="509" y="331" width="1" height="41" fill="#ef5350"/>
<rect x="507" y="331" width="5" height="27" fill="#ef5350"/>
<rect x="515" y="344" width="1" height="36" fill="#ef5350"/>
<rect x="513" y="344" width="5" height="20" fill="#ef5350"/>
<rect x="522" y="353" width="1" height="32" fill="#ef5350"/>
<rect x="520" y="353" width="5" height="20" fill="#ef5350"/>
<rect x="529" y="359" width="1" height="15" fill="#ef5350"/>
<rect x="527" y="363" width="5" height="4" fill="#ef5350"/>
<rect x="535" y="361" width="1" height="20" fill="#ef5350"/>
<rect x="533" y="364" width="5" height="5" fill="#ef5350"/>
<rect x="542" y="353" width="1" height="22" fill="#ef5350"/>
<rect x="540" y="366" width="5" height="2" fill="#ef5350"/>
<rect x="549" y="362" width="1" height="11" fill="#ef5350"/>
<rect x="547" y="367" width="5" height="1" fill="#ef5350"/>
<rect x="555" y="366" width="1" height="21" fill="#ef5350"/>
<rect x="553" y="367" width="5" height="9" fill="#ef5350"/>
<rect x="562" y="371" width="1" height="41" fill="#ef5350"/>
<rect x="560" y="371" width="5" height="26" fill="#ef5350"/>
<rect x="569" y="383" width="1" height="44" fill="#ef5350"/>
<rect x="567" y="383" width="5" height="31" fill="#ef5350"/>
<rect x="576" y="398" width="1" height="27" fill="#ef5350"/>
<rect x="574" y="398" width="5" height="20" fill="#ef5350"/>
<rect x="582" y="408" width="1" height="13" fill="#ef5350"/>
<rect x="580" y="408" width="5" height="9" fill="#ef5350"/>
<rect x="589" y="412" width="1" height="33" fill="#ef5350"/>
<rect x="587" y="412" width="5" height="17" fill="#ef5350"/>
<rect x="596" y="420" width="1" height="30" fill="#ef5350"/>
<rect x="594" y="420" width="5" height="20" fill="#ef5350"/>
<rect x="602" y="425" width="1" height="18" fill="#ef5350"/>
<rect x="600" y="430" width="5" height="3" fill="#ef5350"/>
<rect x="609" y="427" width="1" height="13" fill="#ef5350"/>
<rect x="607" y="431" width="5" height="1" fill="#ef5350"/>
<rect x="616" y="430" width="1" height="7" fill="#ef5350"/>
<rect x="614" y="430" width="5" height="4" fill="#ef5350"/>
<rect x="622" y="431" width="1" height="14" fill="#ef5350"/>
<rect x="620" y="432" width="5" height="7" fill="#ef5350"/>
<rect x="629" y="434" width="1" height="10" fill="#ef5350"/>
<rect x="627" y="435" width="5" height="6" fill="#ef5350"/>
<rect x="636" y="437" width="1" height="5" fill="#ef5350"/>
<rect x="634" y="437" width="5" height="4" fill="#ef5350"/>
<rect x="643" y="435" width="1" height="9" fill="#ef5350"/>
<rect x="641" y="439" width="5" height="1" fill="#ef5350"/>
<rect x="649" y="433" width="1" height="7" fill="#26a69a"/>
<rect x="647" y="437" width="5" height="3" fill="#26a69a"/>
<rect x="656" y="437" width="1" height="14" fill="#ef5350"/>
<rect x="654" y="438" width="5" height="6" fill="#ef5350"/>
<rect x="663" y="440" width="1" height="29" fill="#ef5350"/>
<rect x="661" y="440" width="5" height="17" fill="#ef5350"/>
<rect x="669" y="448" width="1" height="21" fill="#ef5350"/>
<rect x="667" y="448" width="5" height="17" fill="#ef5350"/>
<rect x="676" y="456" width="1" height="18" fill="#ef5350"/>
<rect x="674" y="456" width="5" height="12" fill="#ef5350"/>
<rect x="683" y="462" width="1" height="12" fill="#ef5350"/>
<rect x="681" y="462" width="5" height="10" fill="#ef5350"/>
<rect x="689" y="459" width="1" height="14" fill="#26a69a"/>
<rect x="687" y="466" width="5" height="1" fill="#26a69a"/>
<rect x="696" y="451" width="1" height="16" fill="#26a69a"/>
<rect x="694" y="458" width="5" height="9" fill="#26a69a"/>
<rect x="703" y="451" width="1" height="12" fill="#26a69a"/>
<rect x="701" y="455" width="5" height="8" fill="#26a69a"/>
<rect x="709" y="452" width="1" height="13" fill="#26a69a"/>
<rect x="707" y="458" width="5" height="1" fill="#26a69a"/>
<rect x="716" y="458" width="1" height="6" fill="#ef5350"/>
<rect x="714" y="458" width="5" height="5" fill="#ef5350"/>
<rect x="723" y="460" width="1" height="6" fill="#ef5350"/>
<rect x="721" y="460" width="5" height="5" fill="#ef5350"/>
<rect x="730" y="462" width="1" height="7" fill="#ef5350"/>
<rect x="728" y="462" width="5" height="5" fill="#ef5350"/>
<rect x="736" y="461" width="1" height="10" fill="#ef5350"/>
<rect x="734" y="464" width="5" height="1" fill="#ef5350"/>
<rect x="743" y="458" width="1" height="7" fill="#26a69a"/>
<rect x="741" y="460" width="5" height="5" fill="#26a69a"/>
<rect x="750" y="450" width="1" height="13" fill="#26a69a"/>
<rect x="748" y="457" width="5" height="6" fill="#26a69a"/>
<rect x="756" y="456" width="1" height="6" fill="#26a69a"/>
<rect x="754" y="459" width="5" height="1" fill="#26a69a"/>
<rect x="763" y="457" width="1" height="5" fill="#26a69a"/>
<rect x="761" y="459" width="5" height="1" fill="#26a69a"/>
<rect x="770" y="455" width="1" height="6" fill="#26a69a"/>
<rect x="768" y="457" width="5" height="3" fill="#26a69a"/>
<rect x="776" y="456" width="1" height="4" fill="#26a69a"/>
<rect x="774" y="457" width="5" height="2" fill="#26a69a"/>
<rect x="783" y="455" width="1" height="5" fill="#26a69a"/>
<rect x="781" y="457" width="5" height="2" fill="#26a69a"/>
<rect x="790" y="446" width="1" height="12" fill="#26a69a"/>
<rect x="788" y="451" width="5" height="7" fill="#26a69a"/>
<rect x="797" y="443" width="1" height="12" fill="#26a69a"/>
<rect x="795" y="448" width="5" height="7" fill="#26a69a"/>
<rect x="803" y="446" width="1" height="7" fill="#26a69a"/>
<rect x="801" y="449" width="5" height="3" fill="#26a69a"/>
<rect x="810" y="446" width="1" height="10" fill="#ef5350"/>
<rect x="808" y="450" width="5" height="2" fill="#ef5350"/>
<rect x="817" y="449" width="1" height="6" fill="#ef5350"/>
<rect x="815" y="450" width="5" height="3" fill="#ef5350"/>
<rect x="823" y="438" width="1" height="14" fill="#26a69a"/>
<rect x="821" y="446" width="5" height="6" fill="#26a69a"/>
<rect x="830" y="418" width="1" height="31" fill="#26a69a"/>
<rect x="828" y="432" width="5" height="17" fill="#26a69a"/>
<rect x="837" y="420" width="1" height="21" fill="#26a69a"/>
<rect x="835" y="424" width="5" height="17" fill="#26a69a"/>
<rect x="843" y="416" width="1" height="17" fill="#26a69a"/>
<rect x="841" y="422" width="5" height="11" fill="#26a69a"/>
<rect x="850" y="421" width="1" height="13" fill="#26a69a"/>
<rect x="848" y="426" width="5" height="2" fill="#26a69a"/>
<rect x="857" y="418" width="1" height="14" fill="#26a69a"/>
<rect x="855" y="426" width="5" height="2" fill="#26a69a"/>
<rect x="863" y="408" width="1" height="19" fill="#26a69a"/>
<rect x="861" y="416" width="5" height="11" fill="#26a69a"/>
<rect x="870" y="395" width="1" height="27" fill="#26a69a"/>
<rect x="868" y="410" width="5" height="12" fill="#26a69a"/>
<rect x="877" y="410" width="1" height="12" fill="#26a69a"/>
<rect x="875" y="414" width="5" height="3" fill="#26a69a"/>
<rect x="884" y="407" width="1" height="28" fill="#ef5350"/>
<rect x="882" y="415" width="5" height="7" fill="#ef5350"/>
<rect x="890" y="418" width="1" height="26" fill="#ef5350"/>
<rect x="888" y="418" width="5" height="18" fill="#ef5350"/>
<rect x="897" y="426" width="1" height="16" fill="#ef5350"/>
<rect x="895" y="426" width="5" height="11" fill="#ef5350"/>
<rect x="904" y="431" width="1" height="9" fill="#ef5350"/>
<rect x="902" y="431" width="5" height="6" fill="#ef5350"/>
<rect x="910" y="429" width="1" height="12" fill="#ef5350"/>
<rect x="908" y="433" width="5" height="3" fill="#ef5350"/>
<rect x="917" y="434" width="1" height="15" fill="#ef5350"/>
<rect x="915" y="434" width="5" height="7" fill="#ef5350"/>
<rect x="924" y="437" width="1" height="10" fill="#ef5350"/>
<rect x="922" y="437" width="5" height="6" fill="#ef5350"/>
<rect x="930" y="440" width="1" height="11" fill="#ef5350"/>
<rect x="928" y="440" width="5" height="7" fill="#ef5350"/>
<rect x="937" y="443" width="1" height="8" fill="#ef5350"/>
<rect x="935" y="443" width="5" height="5" fill="#ef5350"/>
<rect x="944" y="443" width="1" height="5" fill="#26a69a"/>
<rect x="942" y="444" width="5" height="2" fill="#26a69a"/>
<rect x="951" y="433" width="1" height="13" fill="#26a69a"/>
<rect x="949" y="439" width="5" height="7" fill="#26a69a"/>
<rect x="957" y="437" width="1" height="17" fill="#ef5350"/>
<rect x="955" y="442" width="5" height="3" fill="#ef5350"/>
<rect x="964" y="443" width="1" height="8" fill="#ef5350"/>
<rect x="962" y="443" width="5" height="6" fill="#ef5350"/>
<rect x="971" y="441" width="1" height="9" fill="#ef5350"/>
<rect x="969" y="445" width="5" height="2" fill="#ef5350"/>
<rect x="977" y="443" width="1" height="7" fill="#ef5350"/>
<rect x="975" y="445" width="5" height="2" fill="#ef5350"/>
<rect x="984" y="440" width="1" height="14" fill="#ef5350"/>
<rect x="982" y="446" width="5" height="1" fill="#ef5350"/>
<rect x="991" y="442" width="1" height="5" fill="#26a69a"/>
<rect x="989" y="444" width="5" height="3" fill="#26a69a"/>
<rect x="997" y="442" width="1" height="4" fill="#26a69a"/>
<rect x="995" y="444" width="5" height="2" fill="#26a69a"/>
<rect x="1004" y="443" width="1" height="4" fill="#26a69a"/>
<rect x="1002" y="444" width="5" height="1" fill="#26a69a"/>
<rect x="1011" y="444" width="1" height="14" fill="#ef5350"/>
<rect x="1009" y="444" width="5" height="8" fill="#ef5350"/>
<rect x="1017" y="448" width="1" height="12" fill="#ef5350"/>
<rect x="1015" y="448" width="5" height="8" fill="#ef5350"/>
<rect x="1024" y="451" width="1" height="6" fill="#ef5350"/>
<rect x="1022" y="451" width="5" height="4" fill="#ef5350"/>
<rect x="1031" y="453" width="1" height="5" fill="#ef5350"/>
<rect x="1029" y="453" width="5" height="3" fill="#ef5350"/>
<rect x="1038" y="454" width="1" height="10" fill="#ef5350"/>
<rect x="1036" y="454" width="5" height="5" fill="#ef5350"/>
<rect x="1044" y="456" width="1" height="7" fill="#ef5350"/>
<rect x="1042" y="456" width="5" height="4" fill="#ef5350"/>
<rect x="1051" y="457" width="1" height="5" fill="#ef5350"/>
<rect x="1049" y="458" width="5" height="1" fill="#ef5350"/>
<rect x="1058" y="453" width="1" height="6" fill="#26a69a"/>
<rect x="1056" y="456" width="5" height="3" fill="#26a69a"/>
<rect x="1064" y="446" width="1" height="12" fill="#26a69a"/>
<rect x="1062" y="451" width="5" height="7" fill="#26a69a"/>
<rect x="1071" y="448" width="1" height="7" fill="#26a69a"/>
<rect x="1069" y="450" width="5" height="5" fill="#26a69a"/>
<rect x="1078" y="442" width="1" height="11" fill="#26a69a"/>
<rect x="1076" y="446" width="5" height="7" fill="#26a69a"/>
<rect x="1084" y="432" width="1" height="18" fill="#26a69a"/>
<rect x="1082" y="438" width="5" height="12" fill="#26a69a"/>
<rect x="1091" y="415" width="1" height="29" fill="#26a69a"/>
<rect x="1089" y="427" width="5" height="17" fill="#26a69a"/>
<rect x="1098" y="416" width="1" height="20" fill="#26a69a"/>
<rect x="1096" y="422" width="5" height="14" fill="#26a69a"/>
<rect x="1105" y="419" width="1" height="19" fill="#26a69a"/>
<rect x="1103" y="428" width="5" height="1" fill="#26a69a"/>
<rect x="1111" y="425" width="1" height="17" fill="#ef5350"/>
<rect x="1109" y="428" width="5" height="9" fill="#ef5350"/>
<rect x="1118" y="432" width="1" height="39" fill="#ef5350"/>
<rect x="1116" y="432" width="5" height="21" fill="#ef5350"/>
<rect x="1125" y="442" width="1" height="26" fill="#ef5350"/>
<rect x="1123" y="442" width="5" height="20" fill="#ef5350"/>
<rect x="1131" y="451" width="1" height="12" fill="#ef5350"/>
<rect x="1129" y="451" width="5" height="10" fill="#ef5350"/>
<rect x="1138" y="454" width="1" height="8" fill="#ef5350"/>
<rect x="1136" y="456" width="5" height="3" fill="#ef5350"/>
<rect x="1145" y="446" width="1" height="12" fill="#26a69a"/>
<rect x="1143" y="452" width="5" height="6" fill="#26a69a"/>
<rect x="1151" y="442" width="1" height="14" fill="#26a69a"/>
<rect x="1149" y="448" width="5" height="8" fill="#26a69a"/>
<rect x="1158" y="440" width="1" height="13" fill="#26a69a"/>
<rect x="1156" y="444" width="5" height="9" fill="#26a69a"/>
<rect x="1165" y="432" width="1" height="17" fill="#26a69a"/>
<rect x="1163" y="438" width="5" height="11" fill="#26a69a"/>
<rect x="1171" y="435" width="1" height="12" fill="#26a69a"/>
<rect x="1169" y="440" width="5" height="4" fill="#26a69a"/>
<rect x="1178" y="437" width="1" height="11" fill="#26a69a"/>
<rect x="1176" y="441" width="5" height="2" fill="#26a69a"/>
<rect x="1185" y="435" width="1" height="8" fill="#26a69a"/>
<rect x="1183" y="439" width="5" height="4" fill="#26a69a"/>
<rect x="1192" y="425" width="1" height="16" fill="#26a69a"/>
<rect x="1190" y="435" width="5" height="6" fill="#26a69a"/>
<rect x="1198" y="425" width="1" height="14" fill="#26a69a"/>
<rect x="1196" y="429" width="5" height="10" fill="#26a69a"/>
<rect x="1205" y="426" width="1" height="8" fill="#26a69a"/>
<rect x="1203" y="430" width="5" height="4" fill="#26a69a"/>
<rect x="1212" y="430" width="1" height="6" fill="#ef5350"/>
<rect x="1210" y="432" width="5" height="1" fill="#ef5350"/>
<rect x="1218" y="427" width="1" height="10" fill="#ef5350"/>
<rect x="1216" y="432" width="5" height="1" fill="#ef5350"/>
<rect x="1225" y="431" width="1" height="4" fill="#ef5350"/>
<rect x="1223" y="432" width="5" height="2" fill="#ef5350"/>
<rect x="1232" y="427" width="1" height="7" fill="#26a69a"/>
<rect x="1230" y="430" width="5" height="3" fill="#26a69a"/>
<rect x="1238" y="428" width="1" height="5" fill="#26a69a"/>
<rect x="1236" y="429" width="5" height="3" fill="#26a69a"/>
<rect x="1245" y="407" width="1" height="24" fill="#26a69a"/>
<rect x="1243" y="419" width="5" height="12" fill="#26a69a"/>
<rect x="1252" y="381" width="1" height="45" fill="#26a69a"/>
<rect x="1250" y="398" width="5" height="28" fill="#26a69a"/>
<rect x="1259" y="383" width="1" height="29" fill="#26a69a"/>
<rect x="1257" y="389" width="5" height="23" fill="#26a69a"/>
<rect x="1265" y="372" width="1" height="29" fill="#26a69a"/>
<rect x="1263" y="383" width="5" height="18" fill="#26a69a"/>
<rect x="1272" y="372" width="1" height="21" fill="#26a69a"/>
<rect x="1270" y="381" width="5" height="12" fill="#26a69a"/>
<rect x="1279" y="377" width="1" height="17" fill="#26a69a"/>
<rect x="1277" y="384" width="5" height="3" fill="#26a69a"/>
<rect x="1285" y="360" width="1" height="51" fill="#ef5350"/>
<rect x="1283" y="385" width="5" height="2" fill="#ef5350"/>
<rect x="1292" y="386" width="1" height="21" fill="#ef5350"/>
<rect x="1290" y="386" width="5" height="11" fill="#ef5350"/>
<rect x="1299" y="386" width="1" height="12" fill="#ef5350"/>
<rect x="1297" y="391" width="5" height="3" fill="#ef5350"/>
<rect x="1305" y="391" width="1" height="19" fill="#ef5350"/>
<rect x="1303" y="392" width="5" height="6" fill="#ef5350"/>
<rect x="1312" y="393" width="1" height="11" fill="#ef5350"/>
<rect x="1310" y="395" width="5" height="4" fill="#ef5350"/>
<rect x="1319" y="396" width="1" height="6" fill="#ef5350"/>
<rect x="1317" y="396" width="5" height="4" fill="#ef5350"/>
</g>
<line x1="9" y1="399.5" x2="1389" y2="399.5" stroke="#ef5350" stroke-width="1" stroke-dasharray="1,2" shape-rendering="crispEdges"/>
<path d="M13.6,687.2 L20.3,683.8 L27.0,679.1 L33.7,675.4 L40.4,670.4 L47.1,654.3 L53.8,641.7 L60.5,616.4 L67.2,601.8 L73.9,576.3 L80.6,570.1 L87.3,568.7 L94.0,594.8 L100.7,588.9 L107.4,608.0 L114.1,592.0 L120.8,580.8 L127.5,579.9 L134.2,571.5 L140.9,565.3 L147.6,562.2 L154.2,559.4 L160.9,558.3 L167.6,624.3 L174.3,619.2 L181.0,627.1 L187.7,661.4 L194.4,659.1 L201.1,655.8 L207.8,648.7 L214.5,634.7 L221.2,632.7 L227.9,625.7 L234.6,618.7 L241.3,636.7 L248.0,660.2 L254.7,658.6 L261.4,652.9 L268.1,650.1 L274.8,645.9 L281.5,647.0 L288.2,657.7 L294.9,657.4 L301.5,654.3 L308.2,644.0 L314.9,623.5 L321.6,614.5 L328.3,614.2 L335.0,596.2 L341.7,588.6 L348.4,586.7 L355.1,576.6 L361.8,569.5 L368.5,588.4 L375.2,599.0 L381.9,620.7 L388.6,660.0 L395.3,649.6 L402.0,650.1 L408.7,652.9 L415.4,667.0 L422.1,687.5 L428.8,695.9 L435.5,705.5 L442.2,711.1 L448.8,700.7 L455.5,686.1 L462.2,676.8 L468.9,667.5 L475.6,667.0 L482.3,670.4 L489.0,681.0 L495.7,688.3 L502.4,690.0 L509.1,698.4 L515.8,701.8 L522.5,706.0 L529.2,701.8 L535.9,702.9 L542.6,701.8 L549.3,702.1 L556.0,706.9 L562.7,717.5 L569.4,726.5 L576.1,728.2 L582.8,727.9 L589.5,733.5 L596.1,738.9 L602.8,731.0 L609.5,729.6 L616.2,730.5 L622.9,733.3 L629.6,734.4 L636.3,734.7 L643.0,733.0 L649.7,729.3 L656.4,733.5 L663.1,743.4 L669.8,747.9 L676.5,749.8 L683.2,752.4 L689.9,742.2 L696.6,727.4 L703.3,721.7 L710.0,724.6 L716.7,728.2 L723.4,730.2 L730.1,731.9 L736.8,727.6 L743.4,719.2 L750.1,711.4 L756.8,714.2 L763.5,714.4 L770.2,711.1 L776.9,711.1 L783.6,709.7 L790.3,694.2 L797.0,684.4 L803.7,687.5 L810.4,691.7 L817.1,694.2 L823.8,677.7 L830.5,649.3 L837.2,638.1 L843.9,635.3 L850.6,647.3 L857.3,646.5 L864.0,631.9 L870.7,624.9 L877.4,636.7 L884.1,654.3 L890.8,682.1 L897.4,684.4 L904.1,684.4 L910.8,682.1 L917.5,693.4 L924.2,697.9 L930.9,703.5 L937.6,705.5 L944.3,699.6 L951.0,685.8 L957.7,695.9 L964.4,703.2 L971.1,698.2 L977.8,698.7 L984.5,699.0 L991.2,693.9 L997.9,691.7 L1004.6,692.8 L1011.3,710.0 L1018.0,719.8 L1024.7,715.6 L1031.4,717.5 L1038.1,725.1 L1044.7,726.5 L1051.4,724.0 L1058.1,714.2 L1064.8,694.2 L1071.5,687.5 L1078.2,674.0 L1084.9,652.9 L1091.6,631.9 L1098.3,624.0 L1105.0,645.1 L1111.7,666.4 L1118.4,699.3 L1125.1,711.9 L1131.8,710.5 L1138.5,705.2 L1145.2,693.1 L1151.9,684.4 L1158.6,675.4 L1165.3,665.9 L1172.0,670.4 L1178.7,672.6 L1185.4,667.8 L1192.0,659.4 L1198.7,650.1 L1205.4,650.7 L1212.1,658.6 L1218.8,658.0 L1225.5,660.5 L1232.2,654.1 L1238.9,652.1 L1245.6,632.7 L1252.3,608.9 L1259.0,602.4 L1265.7,597.9 L1272.4,597.1 L1279.1,604.4 L1285.8,612.8 L1292.5,640.9 L1299.2,636.1 L1305.9,647.9 L1312.6,648.7 L1319.3,651.8" fill="none" stroke="#9a22b2" stroke-width="1.25" stroke-linejoin="round"/>
<g fill="#b2b5be" font-size="14px">
<text x="1400.5" y="115.1">1400.00</text>
<text x="1400.5" y="170.1">1200.00</text>
<text x="1400.5" y="226.1">1000.00</text>
<text x="1400.5" y="281.1">800.00</text>
<text x="1400.5" y="336.1">600.00</text>
<text x="1400.5" y="391.1">400.00</text>
<text x="1400.5" y="501.1">0.00</text>
<text x="1400.5" y="559.1">100.00</text>
<text x="1400.5" y="610.1">80.00</text>
<text x="1400.5" y="661.1">60.00</text>
<text x="1400.5" y="712.1">40.00</text>
<text x="1400.5" y="764.1">20.00</text>
</g>
<rect x="1389" y="389" width="65" height="21" fill="#ef5350"/>
<rect x="1393" y="411" width="61" height="21" fill="#ef5350"/>
<rect x="1389" y="435" width="65" height="21" fill="#ef5350"/>
<rect x="1389" y="399" width="5" height="1" fill="#fff"/><rect x="1389" y="445" width="5" height="1" fill="#fff"/>
<g fill="#ffffff" font-size="14px"><text x="1400.5" y="403.9">349.37</text><text x="1398.7" y="425.7">5d 10h</text><text x="1400.5" y="449.5">345.57</text></g>
<rect x="1407.5" y="64.5" width="35" height="24" rx="4.5" fill="none" stroke="#2f3340"/>
<text transform="translate(1411.63,81.00) scale(0.8643,1)" font-size="15px" fill="#b2b5be">USD</text>
<text transform="translate(105.40,796.60) scale(1.0364,1)" font-size="14.5px" fill="#b2b5be">May</text>
<text transform="translate(227.77,796.60) scale(1.0391,1)" font-size="14.5px" fill="#b2b5be">Sep</text>
<text transform="translate(337.69,796.60) scale(1.0843,1)" font-size="14.5px" fill="#c5c8d0" font-weight="bold">2018</text>
<text transform="translate(460.40,796.60) scale(1.0364,1)" font-size="14.5px" fill="#b2b5be">May</text>
<text transform="translate(575.77,796.60) scale(1.0391,1)" font-size="14.5px" fill="#b2b5be">Sep</text>
<text transform="translate(691.69,796.60) scale(1.0881,1)" font-size="14.5px" fill="#c5c8d0" font-weight="bold">2019</text>
<text transform="translate(808.40,796.60) scale(1.0364,1)" font-size="14.5px" fill="#b2b5be">May</text>
<text transform="translate(923.77,796.60) scale(1.0391,1)" font-size="14.5px" fill="#b2b5be">Sep</text>
<text transform="translate(1040.69,796.60) scale(1.0894,1)" font-size="14.5px" fill="#c5c8d0" font-weight="bold">2020</text>
<text transform="translate(1156.40,796.60) scale(1.0364,1)" font-size="14.5px" fill="#b2b5be">May</text>
<text transform="translate(1278.77,796.60) scale(1.0391,1)" font-size="14.5px" fill="#b2b5be">Sep</text>
<text transform="translate(18.24,81.30) scale(1.1210,1)" font-size="14.5px" fill="#b2b5be" font-weight="bold">Ethereum</text>
<text transform="translate(98.60,81.30) scale(1.2200,1)" font-size="14.5px" fill="#b2b5be" font-weight="bold">/</text>
<text transform="translate(108.31,81.30) scale(1.1384,1)" font-size="14.5px" fill="#b2b5be" font-weight="bold">U.S.</text>
<text transform="translate(143.24,81.30) scale(1.1284,1)" font-size="14.5px" fill="#b2b5be" font-weight="bold">Dollar,</text>
<text transform="translate(196.49,81.30) scale(1.2200,1)" font-size="14.5px" fill="#b2b5be" font-weight="bold">1W,</text>
<text transform="translate(231.00,81.30) scale(1.0275,1)" font-size="14.5px" fill="#b2b5be" font-weight="bold">COINBASE,</text>
<text transform="translate(317.38,81.30) scale(1.0867,1)" font-size="14.5px" fill="#b2b5be" font-weight="bold">Heikin</text>
<text transform="translate(369.22,81.30) scale(1.0382,1)" font-size="14.5px" fill="#b2b5be" font-weight="bold">Ashi</text>
<text transform="translate(18.70,102.80) scale(0.8657,1)" font-size="15.5px" fill="#b2b5be">SAR</text>
<text transform="translate(50.40,102.80) scale(1.0708,1)" font-size="15.5px" fill="#b2b5be">(0.02,</text>
<text transform="translate(95.05,102.80) scale(1.1183,1)" font-size="15.5px" fill="#b2b5be">0.02,</text>
<text transform="translate(135.06,102.80) scale(1.1077,1)" font-size="15.5px" fill="#b2b5be">0.2)</text>
<text transform="translate(18.01,123.70) scale(1.0397,1)" font-size="15.5px" fill="#b2b5be">EMA</text>
<text transform="translate(56.58,123.70) scale(1.1348,1)" font-size="15.5px" fill="#b2b5be">12/26/50/200</text>
<text transform="translate(17.91,560.20) scale(0.9564,1)" font-size="15.5px" fill="#b2b5be">RSI</text>
<text transform="translate(45.26,560.20) scale(1.1183,1)" font-size="15.5px" fill="#b2b5be">(14,</text>
<text transform="translate(76.49,560.20) scale(1.0816,1)" font-size="15.5px" fill="#b2b5be">close)</text>
<text transform="translate(7.59,22.00) scale(1.0402,1)" font-size="15px" fill="#e6e8ee" font-weight="bold">praslearn</text>
<text transform="translate(81.58,22.00) scale(1.0895,1)" font-size="15px" fill="#e6e8ee">published</text>
<text transform="translate(154.89,22.00) scale(1.1911,1)" font-size="15px" fill="#e6e8ee">on</text>
<text transform="translate(178.57,22.00) scale(1.1141,1)" font-size="15px" fill="#e6e8ee">TradingView.com,</text>
<text transform="translate(312.95,22.00) scale(1.1056,1)" font-size="15px" fill="#e6e8ee">October</text>
<text transform="translate(376.85,22.00) scale(1.1542,1)" font-size="15px" fill="#e6e8ee">06,</text>
<text transform="translate(403.20,22.00) scale(1.0710,1)" font-size="15px" fill="#e6e8ee">2020</text>
<text transform="translate(443.37,22.00) scale(1.0907,1)" font-size="15px" fill="#e6e8ee">19:37:25</text>
<text transform="translate(511.68,22.00) scale(0.9043,1)" font-size="15px" fill="#e6e8ee">IST</text>
<text transform="translate(8.00,44.00) scale(1.0023,1)" font-size="15px" fill="#e6e8ee" font-weight="bold">COINBASE:ETHUSD, 1W</text>
<text transform="translate(192.20,44.00) scale(1.0743,1)" font-size="15px" fill="#e6e8ee">345.57</text>
<text transform="translate(263.13,44.00) scale(1.0738,1)" font-size="15px" fill="#e6e8ee">−8.16</text>
<text transform="translate(308.05,44.00) scale(1.0542,1)" font-size="15px" fill="#e6e8ee">(−2.31%)</text>
<path d="M245.8,33.5 L257.4,33.5 L251.6,44 Z" fill="#e0513c"/>
<text transform="translate(376.84,44.00) scale(1.1077,1)" font-size="15px" fill="#e6e8ee" font-weight="bold">O:</text>
<text transform="translate(449.31,44.00) scale(1.1173,1)" font-size="15px" fill="#e6e8ee" font-weight="bold">H:</text>
<text transform="translate(522.34,44.00) scale(0.9883,1)" font-size="15px" fill="#e6e8ee" font-weight="bold">L:</text>
<text transform="translate(591.00,44.00) scale(1.0072,1)" font-size="15px" fill="#e6e8ee" font-weight="bold">C:</text>
<text transform="translate(395.39,44.00) scale(1.0872,1)" font-size="15px" fill="#e0513c">359.14</text>
<text transform="translate(466.89,44.00) scale(1.0872,1)" font-size="15px" fill="#e0513c">359.14</text>
<text transform="translate(536.09,44.00) scale(1.0917,1)" font-size="15px" fill="#e0513c">343.38</text>
<text transform="translate(606.68,44.00) scale(1.1012,1)" font-size="15px" fill="#e0513c">349.37</text>
<g transform="translate(8,821.7)">
<g fill="#2196f3"><circle cx="5.7" cy="13.7" r="5.7"/><circle cx="14" cy="8.1" r="8.1"/><circle cx="25.6" cy="12.6" r="6.8"/><rect x="4.5" y="10" width="22" height="9.4"/></g>
<path d="M1.8,16.4 L12.2,7.2 L19.6,14.4 L28.8,6.2" stroke="#131722" stroke-width="1" fill="none"/>
<circle cx="12.2" cy="7.2" r="1.8" fill="#131722"/><circle cx="19.6" cy="14.4" r="1.8" fill="#131722"/>
</g>
<text transform="translate(42.38,837.00) scale(1.0398,1)" font-size="15.5px" fill="#eceef2">TradingView</text>
</svg></body></html>
